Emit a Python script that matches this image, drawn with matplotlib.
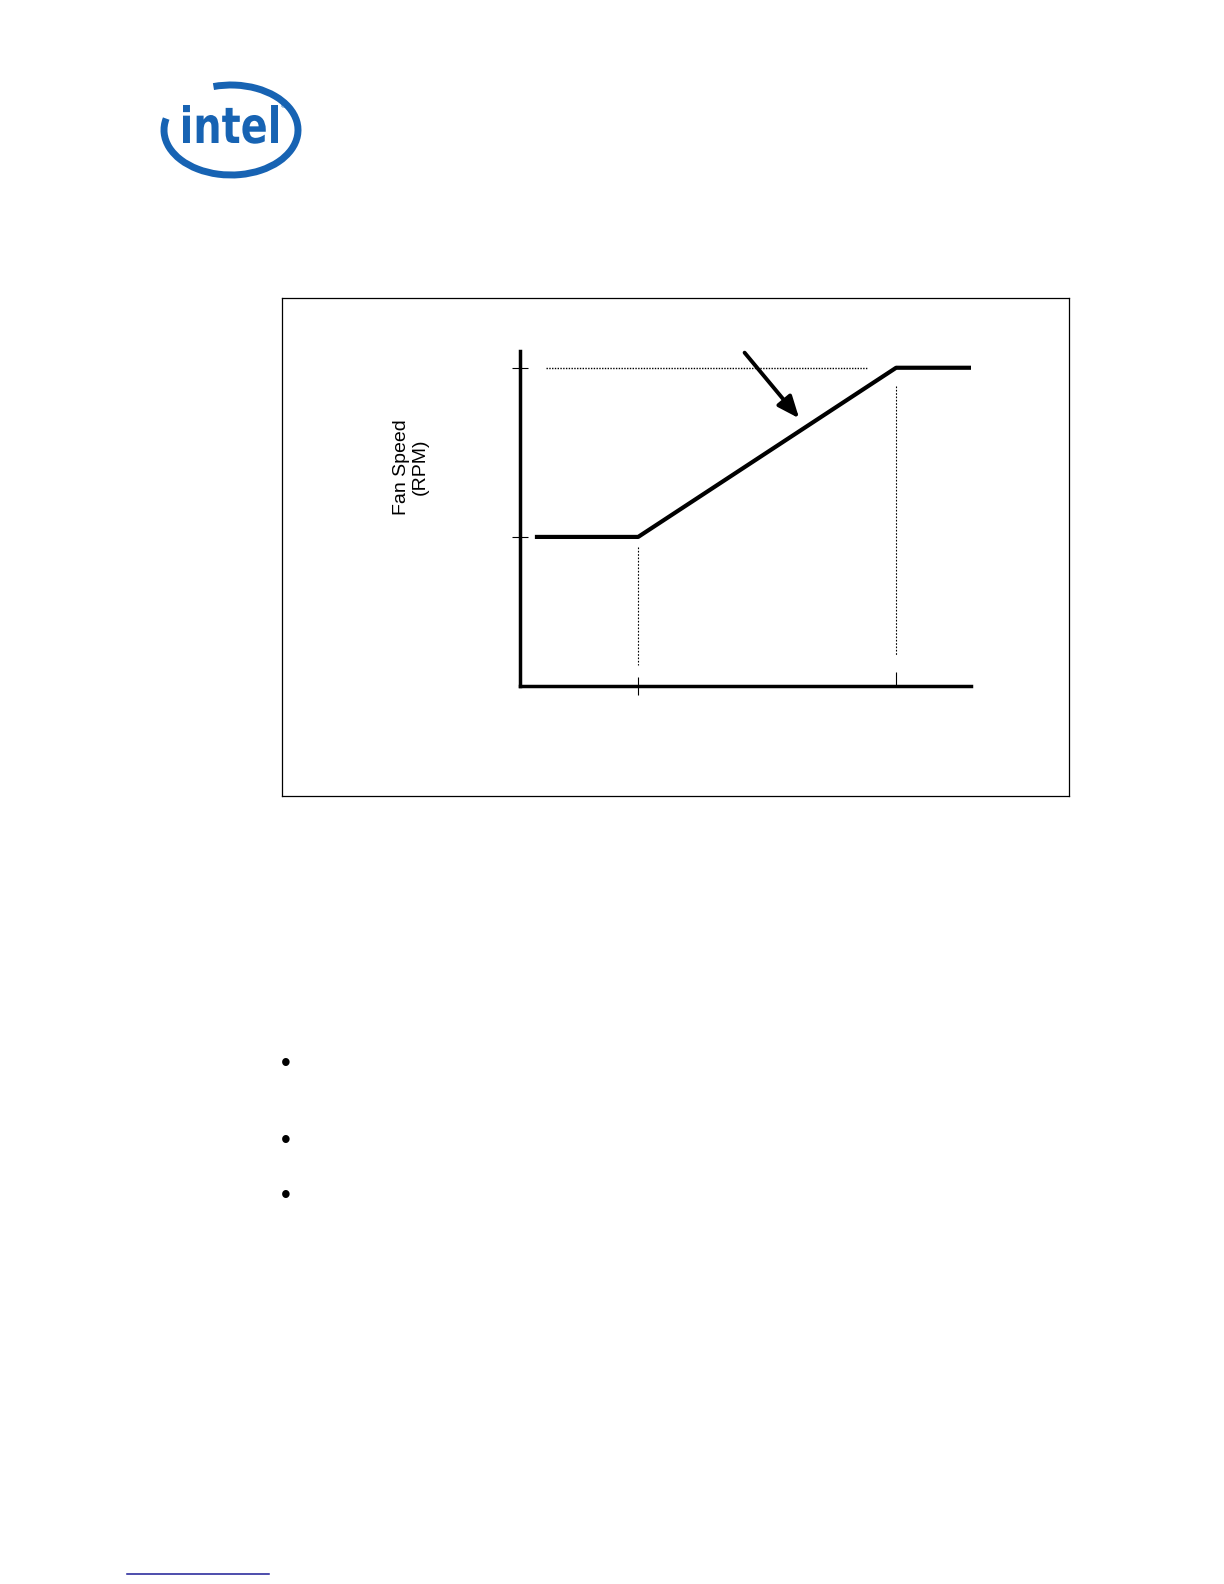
import matplotlib
matplotlib.use("Agg")
import matplotlib.pyplot as plt
from matplotlib.patches import Arc, PathPatch
from matplotlib.textpath import TextPath
from matplotlib.font_manager import FontProperties
from matplotlib.transforms import Affine2D

# fan speed curve, abstract units (0-100 on both axes, no labels in the original)
curve_temp = [3.3, 26.2, 83.4, 100]
curve_speed = [44.5, 44.5, 95, 95]
t_min = 26.2
t_max = 83.4
speed_min = 44.5
speed_max = 95
max_guide_x = [5.7, 77]
tmin_guide_y = [41.6, 6.3]
tmax_guide_y = [89.6, 9]
arrow_from = (49.8, 99.5)
arrow_to = (61.9, 79.9)
ylabel = "Fan Speed\n(RPM)"

W, H = 1224, 1584


def px_rect(l, t, r, b):
    return [l / W, 1 - b / H, (r - l) / W, (b - t) / H]


fig = plt.figure(figsize=(W / 100, H / 100), dpi=100)
fig.patch.set_facecolor("white")

# page overlay in pixel coords, for logo / bullets / footer line
page = fig.add_axes([0, 0, 1, 1])
page.set_xlim(0, W)
page.set_ylim(H, 0)
page.axis("off")

blue = "#1763b3"
# y is flipped here, so the gap (upper left on the page) is 190..248 in data angles
page.add_patch(Arc((231, 130), 134, 90, theta1=248, theta2=190, lw=5, color=blue))
tp = TextPath((0, 0), "intel", size=100, prop=FontProperties(family="DejaVu Sans", weight="bold"))
ext = tp.get_extents()
sx = 95 / ext.width
sy = 38 / ext.y1
tr = Affine2D().translate(-ext.x0, 0).scale(sx, -sy).translate(183, 143) + page.transData
page.add_patch(PathPatch(tp, transform=tr, color=blue, lw=0))
page.text(284, 106, "®", fontsize=5, color=blue, ha="center", va="center")

for by in [1064, 1141, 1196]:
    page.text(286, by, "•", fontsize=20, ha="center", va="center", family="Liberation Sans")

page.plot([127, 269], [1574, 1574], color="#1c1c96", lw=1.1)

# figure frame
frame = fig.add_axes(px_rect(282, 298, 1069, 796))
frame.set_xticks([])
frame.set_yticks([])
for s in frame.spines.values():
    s.set_linewidth(0.9)

# the chart
ax = fig.add_axes(px_rect(520, 351, 971, 686))
ax.patch.set_alpha(0)
ax.set_xlim(0, 100)
ax.set_ylim(0, 100)
ax.spines["top"].set_visible(False)
ax.spines["right"].set_visible(False)
ax.spines["left"].set_linewidth(2.5)
ax.spines["bottom"].set_linewidth(2.5)

ax.plot(curve_temp, curve_speed, color="black", lw=3, solid_capstyle="butt", clip_on=False)
ax.plot(max_guide_x, [speed_max, speed_max], color="black", lw=1, ls=(0, (1, 1)), clip_on=False)
ax.plot([t_min, t_min], tmin_guide_y, color="black", lw=0.8, ls=(0, (1.5, 1.5)), clip_on=False)
ax.plot([t_max, t_max], tmax_guide_y, color="black", lw=0.8, ls=(0, (1.5, 1.5)), clip_on=False)

ax.annotate("", xy=arrow_to, xytext=arrow_from,
            arrowprops=dict(arrowstyle="-|>,head_length=0.6,head_width=0.25", lw=2.8, color="black",
                            mutation_scale=22, shrinkA=0, shrinkB=0),
            annotation_clip=False)

ax.set_yticks([speed_min, speed_max])
ax.set_xticks([t_min])
ax.set_xticks([t_max], minor=True)
ax.tick_params(axis="y", direction="inout", length=11, width=0.8, labelleft=False)
ax.tick_params(axis="x", which="major", direction="inout", length=13, width=0.8, labelbottom=False)
ax.tick_params(axis="x", which="minor", direction="in", length=10, width=0.8, labelbottom=False)

fig.text(411 / W, 1 - 467 / H, ylabel, rotation=90, ha="center", va="center",
         multialignment="center", fontsize=14, family="Liberation Sans", linespacing=1.1)

fig.savefig("out.png", dpi=100)
